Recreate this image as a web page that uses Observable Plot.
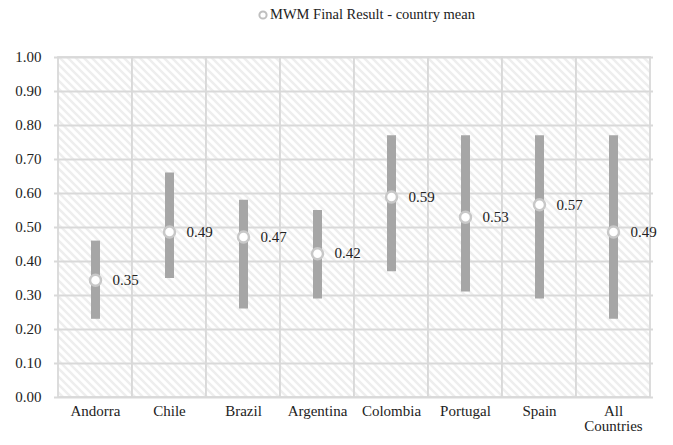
<!DOCTYPE html>
<html>
<head>
<meta charset="utf-8">
<script src="https://cdn.jsdelivr.net/npm/d3@7"></script>
<script src="https://cdn.jsdelivr.net/npm/@observablehq/plot@0.6"></script>
<style>
  body { margin: 0; background: #fff; font-family: "Liberation Serif", "Times New Roman", serif; }
  #legend { position: relative; height: 30px; font-size: 14.5px; color: #222; }
  #legend svg { position: absolute; left: 257px; top: 9px; }
  #legend span { position: absolute; left: 270px; top: 6px; white-space: nowrap; }
</style>
</head>
<body>
<div id="legend"><svg width="12" height="12"><circle cx="6" cy="6" r="3.6" fill="#fff" stroke="#bfbfbf" stroke-width="2"/></svg><span>MWM Final Result - country mean</span></div>
<div id="chart"></div>
<script>
const countries = ["Andorra", "Chile", "Brazil", "Argentina", "Colombia", "Portugal", "Spain", "All Countries"];
const minVals = [0.23, 0.35, 0.26, 0.29, 0.37, 0.31, 0.29, 0.23];
const maxVals = [0.46, 0.66, 0.58, 0.55, 0.77, 0.77, 0.77, 0.77];
const means = [0.345, 0.487, 0.472, 0.423, 0.59, 0.53, 0.567, 0.487];
const meanLabels = ["0.35", "0.49", "0.47", "0.42", "0.59", "0.53", "0.57", "0.49"];
const yTicks = [0, 0.1, 0.2, 0.3, 0.4, 0.5, 0.6, 0.7, 0.8, 0.9, 1.0];

const data = countries.map((c, i) => ({country: c, min: minVals[i], max: maxVals[i], mean: means[i], label: meanLabels[i]}));

const chart = Plot.plot({
  width: 673,
  height: 415,
  marginTop: 27,
  marginBottom: 48,
  marginLeft: 54,
  marginRight: 20,
  style: {fontFamily: "'Liberation Serif', 'Times New Roman', serif", fontSize: "15px", color: "#222", background: "#fff"},
  x: {domain: countries, padding: 0, label: null, tickSize: 0, tickPadding: 8,
      tickFormat: d => d === "All Countries" ? "All\nCountries" : d},
  y: {domain: [0, 1], ticks: yTicks, tickFormat: d => d.toFixed(2), label: null, tickSize: 0, tickPadding: 13},
  marks: [
    Plot.barY(countries, {x: d => d, y1: 0, y2: 1, fill: "url(#hatch)", stroke: "#d9d9d9", strokeWidth: 1.8}),
    Plot.ruleY(yTicks, {y: d => d, stroke: "#d9d9d9", strokeWidth: 1.8}),
    Plot.ruleX(data, {x: "country", y1: "min", y2: "max", stroke: "#a6a6a6", strokeWidth: 9}),
    Plot.dot(data, {x: "country", y: "mean", r: 5.5, fill: "#fff", stroke: "#c8c8c8", strokeWidth: 2.5}),
    Plot.text(data, {x: "country", y: "mean", text: "label", dx: 17, textAnchor: "start", fontSize: 15, fill: "#222"})
  ]
});

d3.select(chart).insert("defs", ":first-child").html(
  '<pattern id="hatch" patternUnits="userSpaceOnUse" width="8" height="8">' +
  '<rect width="8" height="8" fill="#fff"/>' +
  '<path d="M-2,-2 L10,10 M-2,6 L2,10 M6,-2 L10,2" stroke="#eeeeee" stroke-width="2.4"/>' +
  '</pattern>');

document.getElementById("chart").appendChild(chart);
</script>
</body>
</html>
